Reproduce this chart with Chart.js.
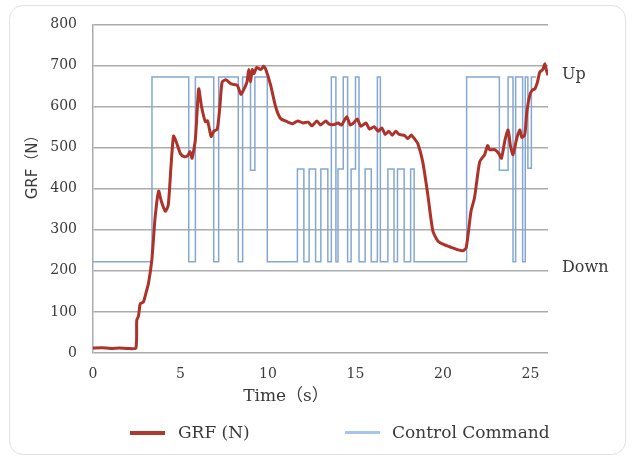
<!DOCTYPE html>
<html><head><meta charset="utf-8">
<script src="https://cdn.jsdelivr.net/npm/chart.js@4.4.1/dist/chart.umd.min.js"></script>
<style>
html,body{margin:0;padding:0;background:#fff;}
#wrap{position:relative;width:633px;height:459px;overflow:hidden;background:#fff;}
#frame{position:absolute;left:9px;top:5px;width:617px;height:450px;border:1px solid #e2e2e2;border-radius:14px;box-sizing:border-box;}
canvas{position:absolute;left:0;top:0;}
.leg{position:absolute;font-family:"DejaVu Serif",serif;font-size:17px;color:#3a3a3a;line-height:20px;white-space:nowrap;}
.sw{position:absolute;}
</style></head><body>
<div id="wrap">
<div id="frame"></div>
<canvas id="c" width="633" height="459"></canvas>
<div class="sw" style="left:130px;top:431px;width:35px;height:4px;background:#b0392e"></div>
<div class="leg" id="leg0" style="left:178px;top:422px"></div>
<div class="sw" style="left:345px;top:431px;width:35px;height:3px;background:#a9c5e8"></div>
<div class="leg" id="leg1" style="left:392px;top:422px"></div>
</div>
<script>
// ---- data ----
const grfTime = [0,0.5,1,1.5,2,2.45,2.5,2.6,2.7,2.88,3.05,3.17,3.37,3.55,3.75,3.9,4.13,4.3,4.45,4.6,4.75,5.0,5.2,5.4,5.55,5.66,5.85,6.04,6.2,6.42,6.55,6.75,6.9,7.1,7.25,7.38,7.6,7.9,8.24,8.45,8.6,8.8,8.9,9.0,9.1,9.2,9.35,9.58,9.75,9.86,10.15,10.44,10.72,11.1,11.4,11.7,12.0,12.3,12.5,12.8,13.0,13.3,13.5,13.76,14.0,14.2,14.5,14.7,14.9,15.1,15.3,15.6,15.8,16.06,16.3,16.5,16.7,16.9,17.1,17.3,17.5,17.8,18.0,18.18,18.4,18.56,18.84,19.13,19.42,19.7,20.0,20.47,20.8,21.14,21.33,21.6,21.8,22.1,22.38,22.55,22.67,22.95,23.2,23.34,23.55,23.72,23.85,24.0,24.2,24.39,24.5,24.67,24.8,24.96,25.1,25.25,25.4,25.53,25.7,25.82,25.9,26.0];
const grfForce = [12,13,11,12,11,12,80,90,120,124,150,169,230,330,394,370,345,360,450,528,515,485,478,480,490,474,520,643,600,563,565,527,540,545,600,660,665,655,652,630,640,660,690,660,690,680,695,690,698,692,652,599,571,563,558,565,560,562,553,565,555,565,557,556,560,555,575,555,560,570,552,560,545,551,540,548,532,540,530,540,532,530,522,531,520,510,466,386,297,273,265,257,252,249,257,345,378,466,483,505,495,495,485,474,520,543,505,483,520,543,525,531,590,628,640,643,660,684,690,704,690,676];

const cmdTime  = [0,3.37,5.47,5.85,6.9,7.18,8.3,8.55,9.0,9.25,9.96,11.68,12.05,12.35,12.72,13.02,13.42,13.62,13.88,14.0,14.3,14.55,14.75,15.0,15.2,15.55,15.9,16.25,16.42,16.85,17.2,17.4,17.78,18.15,18.35,21.35,23.22,23.72,24.0,24.15,24.55,24.7,24.85,25.05,25.3];
const cmdLevel = [222,672,222,672,222,672,222,672,445,672,222,448,222,448,222,448,222,672,222,448,672,222,448,672,222,448,222,672,222,448,222,448,222,448,222,672,445,672,222,672,222,672,450,672,672];

const seriesNames = ['GRF (N)', 'Control Command'];
const levelTickValues = [676, 208];
const levelTickLabels = ['Up', 'Down'];
const xTitle = 'Time（s）';
const yTitle = 'GRF（N）';

document.getElementById('leg0').textContent = seriesNames[0];
document.getElementById('leg1').textContent = seriesNames[1];

const TXT = '#3a3a3a';
const GRID = '#ababab';
const serif = '"DejaVu Serif", serif';

const titlePlugin = {
  id: 'axisTitles',
  afterDraw(chart) {
    const {ctx, chartArea: a} = chart;
    ctx.save();
    ctx.fillStyle = TXT;
    ctx.textAlign = 'center';
    ctx.textBaseline = 'middle';
    ctx.font = '17px "DejaVu Serif", "Noto Sans CJK JP", serif';
    ctx.fillText(xTitle, a.left + 193, a.bottom + 44);
    ctx.translate(a.left - 60, a.top + 139);
    ctx.rotate(-Math.PI / 2);
    ctx.font = '15px "DejaVu Sans", "Noto Sans CJK JP", sans-serif';
    ctx.fillText(yTitle, 0, 0);
    ctx.restore();
  }
};

new Chart(document.getElementById('c'), {
  type: 'line',
  data: {
    datasets: [
      {
        label: seriesNames[0],
        data: grfTime.map((t, i) => ({x: t, y: grfForce[i]})),
        borderColor: '#ad3229',
        borderWidth: 3,
        pointRadius: 0,
        tension: 0.2,
        fill: false
      },
      {
        label: seriesNames[1],
        data: cmdTime.map((t, i) => ({x: t, y: cmdLevel[i]})),
        borderColor: '#84a7d4',
        borderWidth: 1.5,
        pointRadius: 0,
        stepped: true,
        fill: false
      }
    ]
  },
  options: {
    responsive: false,
    animation: false,
    devicePixelRatio: 1,
    layout: {padding: {left: 0, right: 0, top: 22, bottom: 0}},
    plugins: {legend: {display: false}, tooltip: {enabled: false}},
    scales: {
      x: {
        type: 'linear',
        min: 0, max: 26,
        grid: {display: false, drawTicks: false},
        border: {display: false},
        ticks: {stepSize: 5, includeBounds: false, padding: 13, color: TXT, font: {family: serif, size: 14}, maxRotation: 0},
        afterFit(s) { s.height = 106; }
      },
      y: {
        type: 'linear',
        position: 'left',
        min: 0, max: 800,
        grid: {color: GRID, lineWidth: 1.5, drawTicks: false},
        border: {display: true, color: GRID, width: 1.5},
        ticks: {stepSize: 100, padding: 16, color: TXT, font: {family: serif, size: 14}},
        afterFit(s) { s.width = 93; }
      },
      yr: {
        type: 'linear',
        position: 'right',
        min: 0, max: 800,
        grid: {display: false, drawTicks: false},
        border: {display: false},
        afterBuildTicks(s) { s.ticks = levelTickValues.map(v => ({value: v})); },
        ticks: {
          padding: 14, color: TXT, font: {family: serif, size: 16},
          callback: (v) => { const i = levelTickValues.indexOf(v); return i >= 0 ? levelTickLabels[i] : ''; }
        },
        afterFit(s) { s.width = 85; }
      }
    }
  },
  plugins: [titlePlugin]
});
</script>
</body></html>
